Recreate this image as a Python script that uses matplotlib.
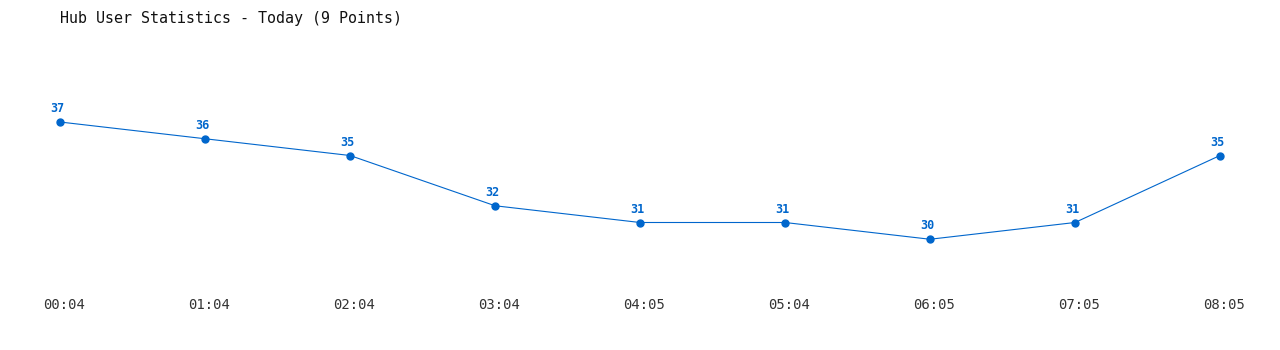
import matplotlib
matplotlib.use("Agg")
import matplotlib.pyplot as plt
from matplotlib.transforms import ScaledTranslation

# データ
times = ["00:04", "01:04", "02:04", "03:04", "04:05", "05:04", "06:05", "07:05", "08:05"]
users = [37, 36, 35, 32, 31, 31, 30, 31, 35]

blue = "#0066cc"
mono = ["DejaVu Sans Mono"]

fig = plt.figure(figsize=(12.8, 3.5), dpi=100)
ax = fig.add_axes([60 / 1280, 1 - 289.5 / 350, 1160 / 1280, 234.5 / 350])

x = list(range(len(users)))
ax.plot(x, users, color=blue, linewidth=0.8, marker="o", markersize=5, clip_on=False)

for xi, v in zip(x, users):
    ax.annotate(str(v), (xi, v), xytext=(-2, 5), textcoords="offset points",
                ha="center", va="bottom", color=blue, fontsize=8.5,
                fontweight="bold", family=mono)

ax.set_xlim(0, len(users) - 1)
ax.set_ylim(27, 41)
ax.set_xticks(x)
ax.set_xticklabels(times, family=mono, fontsize=10, color="#333333")
ax.tick_params(axis="x", length=0, pad=6)
# ラベルを少し右へ
shift = ScaledTranslation(4 / 100, 0, fig.dpi_scale_trans)
for lbl in ax.get_xticklabels():
    lbl.set_transform(lbl.get_transform() + shift)
ax.set_yticks([])
for s in ax.spines.values():
    s.set_visible(False)

fig.text(60 / 1280, 1 - 18 / 350, "Hub User Statistics - Today (9 Points)",
         family=mono, fontsize=10.8, color="#111111", va="center", ha="left")

fig.savefig("out.png", dpi=100)
